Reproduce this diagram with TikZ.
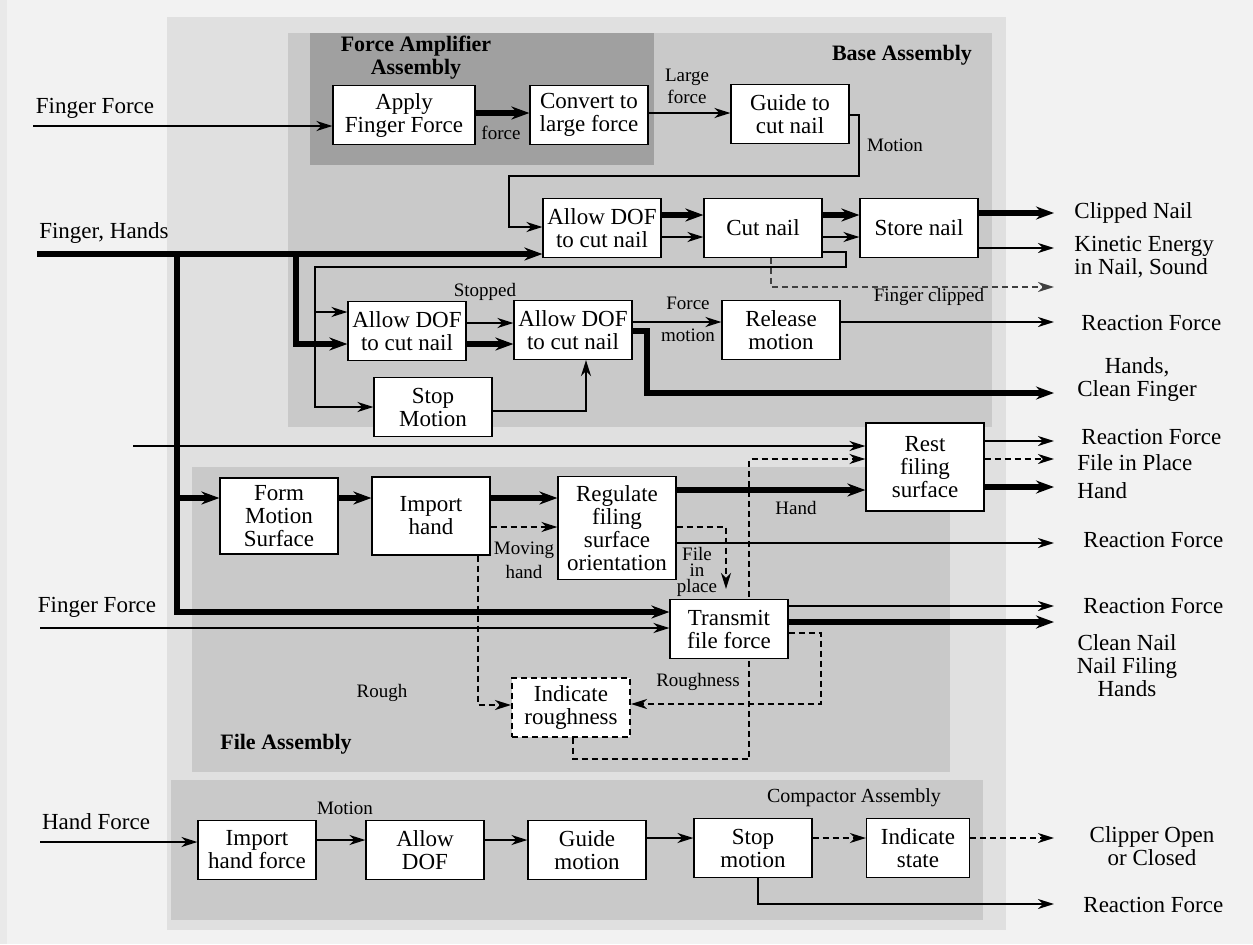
\documentclass[tikz,border=0pt]{standalone}
\usepackage{fontspec}
\setmainfont{Liberation Serif}
\usetikzlibrary{arrows.meta,backgrounds}

\definecolor{scanwhite}{RGB}{242,242,242}
\definecolor{palegray}{RGB}{224,224,224}
\definecolor{midgray}{RGB}{201,201,201}
\definecolor{ampgray}{RGB}{160,160,160}

\begin{document}
\begin{tikzpicture}[x=0.5pt,y=-0.5pt,
        fnbox/.style={draw, line width=0.6pt, fill=white, align=center, inner sep=1pt,
            minimum width=59pt, minimum height=29.5pt, font=\fontsize{11.5}{11.5}\selectfont},
        sigbox/.style={fnbox, line width=1pt, dash pattern=on 3pt off 2pt},
        flow/.style={line width=1pt, -{Stealth[length=8pt,width=5pt,inset=2.5pt]}},
        bigflow/.style={line width=2.6pt, -{Stealth[length=9pt,width=6.5pt,inset=3pt]}},
        sigflow/.style={line width=1pt, dash pattern=on 3pt off 2pt, -{Stealth[length=8pt,width=5pt,inset=2.5pt]}},
        lbl/.style={font=\fontsize{9.5}{11}\selectfont, align=center, inner sep=0pt},
        io/.style={font=\fontsize{11.5}{11.5}\selectfont, align=center, inner sep=0pt},
        grouptitle/.style={font=\fontsize{11}{11.5}\selectfont\bfseries, align=center, inner sep=0pt}]
    \useasboundingbox (0,0) rectangle (1253,944);

    % function blocks
    \node[fnbox, minimum width=71pt] (apply) at (404,115) {Apply\\Finger Force};
    \node[fnbox] (convert) at (589,115) {Convert to\\large force};
    \node[fnbox] (guide) at (790,114) {Guide to\\cut nail};
    \node[fnbox] (dofa) at (602,228) {Allow DOF\\to cut nail};
    \node[fnbox] (cut) at (763,228) {Cut nail};
    \node[fnbox] (store) at (919,228) {Store nail};
    \node[fnbox] (dofb) at (407,331) {Allow DOF\\to cut nail};
    \node[fnbox] (dofc) at (573,330) {Allow DOF\\to cut nail};
    \node[fnbox] (release) at (781,330) {Release\\motion};
    \node[fnbox] (stopm) at (433,407) {Stop\\Motion};
    \node[fnbox, minimum height=44pt] (rest) at (925,467) {Rest\\filing\\surface};
    \node[fnbox, minimum height=38pt] (form) at (279,516) {Form\\Motion\\Surface};
    \node[fnbox, minimum height=39pt] (import) at (431,516) {Import\\hand};
    \node[fnbox, minimum height=51.5pt] (regulate) at (617,528) {Regulate\\filing\\surface\\orientation};
    \node[fnbox] (transmit) at (729,629) {Transmit\\file force};
    \node[sigbox] (indrough) at (571,707) {Indicate\\roughness};
    \node[fnbox] (imphf) at (257,850) {Import\\hand force};
    \node[fnbox] (allowdof) at (425,850) {Allow\\DOF};
    \node[fnbox] (guidem) at (587,850) {Guide\\motion};
    \node[fnbox] (stopmo) at (753,848) {Stop\\motion};
    \node[fnbox, minimum width=51.5pt] (indstate) at (918,848) {Indicate\\state};

    % assembly names
    \node[grouptitle] (tamp) at (416,58) {Force Amplifier\\Assembly};
    \node[grouptitle] (tbase) at (902,55) {Base Assembly};
    \node[grouptitle] (tfile) at (286,744) {File Assembly};
    \node[lbl, font=\fontsize{10}{10}\selectfont] (tcomp) at (854,798) {Compactor Assembly};

    % inputs and outputs
    \node[io] (ffa) at (95,108) {Finger Force};
    \node[io] (fh) at (104,233) {Finger, Hands};
    \node[io] (ffb) at (97,607) {Finger Force};
    \node[io] (hf) at (96,822) {Hand Force};
    \node[io, anchor=west] (oclip) at (1074,213) {Clipped Nail};
    \node[io, anchor=west, align=left] (okin) at (1074,257) {Kinetic Energy\\in Nail, Sound};
    \node[io, anchor=west] (orfa) at (1081,323) {Reaction Force};
    \node[io] (ohands) at (1137,379) {Hands,\\Clean Finger};
    \node[io, anchor=west] (orfb) at (1081,437) {Reaction Force};
    \node[io, anchor=west] (ofip) at (1077,463) {File in Place};
    \node[io, anchor=west] (ohand) at (1077,491) {Hand};
    \node[io, anchor=west] (orfc) at (1083,540) {Reaction Force};
    \node[io, anchor=west] (orfd) at (1083,606) {Reaction Force};
    \node[io] (oclean) at (1127,666) {Clean Nail\\Nail Filing\\Hands};
    \node[io] (oclipper) at (1152,846) {Clipper Open\\or Closed};
    \node[io, anchor=west] (orfe) at (1083,905) {Reaction Force};

    % flow labels
    \node[lbl] (lforce) at (501,133) {force};
    \node[lbl] (llarge) at (687,86) {Large\\force};
    \node[lbl] (lmotion) at (895,145) {Motion};
    \node[lbl] (lclipped) at (929,297) {Finger clipped};
    \node[lbl] (lstopped) at (485,292) {Stopped};
    \node[lbl] (lforceb) at (688,303) {Force};
    \node[lbl] (lmotionb) at (688,335) {motion};
    \node[lbl, font=\fontsize{9.5}{12}\selectfont] (lmoving) at (524,560) {Moving\\hand};
    \node[lbl] (lhand) at (796,508) {Hand};
    \node[lbl, font=\fontsize{9.5}{8}\selectfont] (lfip) at (697,572) {File\\in\\place};
    \node[lbl] (lrough) at (382,693) {Rough};
    \node[lbl] (lroughness) at (698,682) {Roughness};
    \node[lbl] (lmotionc) at (345,808) {Motion};

    % free ends
    \coordinate (ffain) at (33,126);
    \coordinate (fhin) at (37,254);
    \coordinate (fhsplit) at (177,254);
    \coordinate (formsplit) at (177,498);
    \coordinate (fhdrop) at (296,254);
    \coordinate (loopsplit) at (315,312);
    \coordinate (restin) at (133,446);
    \coordinate (ffbin) at (40,628);
    \coordinate (hfin) at (40,842);
    \foreach \n/\y in {eclip/213, ekin/248, efinger/287, erf/322, ehands/393, erfb/441, efip/459,
            ehand/487, erfc/543, erfd/606, eclean/622, eclipper/838, erfe/904}
        \coordinate (\n) at (1054,\y);

    \begin{scope}[on background layer]
        \fill[scanwhite] (0,0) rectangle (1253,944);
        \fill[palegray!70] (0,0) rectangle (7,944);
        \fill[palegray] (167,17) rectangle (1006,930);
        \fill[midgray] (288,33) rectangle (992,427);
        \fill[ampgray] (310,33) rectangle (654,165);
        \fill[midgray] (192,467) rectangle (950,772);
        \fill[midgray] (171,780) rectangle (983,920);
        % runs behind the transmit block
        \draw[sigflow] (indrough.south -| 573,0) |- (749,759) |- (rest.west |- efip);
    \end{scope}

    % force amplifier and base
    \draw[flow] (ffain) -- (apply.west |- ffain);
    \draw[bigflow] (apply.east |- 0,113) -- (convert.west |- 0,113);
    \draw[flow] (convert.east |- 0,113) -- (guide.west |- 0,113);
    \draw[flow] (guide.east |- 0,115) -| (859,176) -| (509,227) -- (dofa.west |- 0,227);
    \draw[bigflow] (fhin) -- (dofa.west |- fhin);
    \draw[bigflow] (fhsplit) |- (transmit.west |- 0,612);
    \draw[bigflow] (formsplit) -- (form.west |- formsplit);
    \draw[bigflow] (fhdrop) |- (dofb.west |- 0,344);
    \draw[bigflow] (dofa.east |- 0,215) -- (cut.west |- 0,215);
    \draw[flow] (dofa.east |- 0,237) -- (cut.west |- 0,237);
    \draw[bigflow] (cut.east |- 0,215) -- (store.west |- 0,215);
    \draw[flow] (cut.east |- 0,237) -- (store.west |- 0,237);
    \draw[bigflow] (store.east |- eclip) -- (eclip);
    \draw[flow] (store.east |- ekin) -- (ekin);
    \draw[flow] (cut.east |- 0,252) -| (846,267) -| (315,407) -- (stopm.west |- 0,407);
    \draw[flow] (loopsplit) -- (dofb.west |- loopsplit);
    \draw[sigflow, line width=0.8pt, black!75] (cut.south -| 771,0) |- (efinger);
    \draw[flow] (dofb.east |- 0,323) -- (dofc.west |- 0,323);
    \draw[bigflow] (dofb.east |- 0,344) -- (dofc.west |- 0,344);
    \draw[flow] (dofc.east |- erf) -- (release.west |- erf);
    \draw[flow] (release.east |- erf) -- (erf);
    \draw[bigflow] (dofc.east |- 0,331) -| (647,393) -- (ehands);
    \draw[flow] (stopm.east |- 0,411) -| (dofc.south -| 586,0);

    % file
    \draw[flow] (restin) -- (rest.west |- restin);
    \draw[bigflow] (form.east |- 0,498) -- (import.west |- 0,498);
    \draw[bigflow] (import.east |- 0,498) -- (regulate.west |- 0,498);
    \draw[sigflow] (import.east |- 0,527) -- (regulate.west |- 0,527);
    \draw[bigflow] (regulate.east |- 0,490) -- (rest.west |- 0,490);
    \draw[sigflow, shorten >=5pt] (regulate.east |- 0,527) -| (transmit.north -| 726,0);
    \draw[flow] (regulate.east |- erfc) -- (erfc);
    \draw[flow] (ffbin) -- (transmit.west |- ffbin);
    \draw[flow] (transmit.east |- erfd) -- (erfd);
    \draw[bigflow] (transmit.east |- eclean) -- (eclean);
    \draw[sigflow] (transmit.east |- 0,633) -| (821,704) -- (indrough.east |- 0,704);
    \draw[sigflow] (import.south -| 478,0) |- (indrough.west |- 0,705);
    \draw[flow] (rest.east |- erfb) -- (erfb);
    \draw[sigflow] (rest.east |- efip) -- (efip);
    \draw[bigflow] (rest.east |- ehand) -- (ehand);

    % compactor
    \draw[flow] (hfin) -- (imphf.west |- hfin);
    \draw[flow] (imphf.east |- 0,840) -- (allowdof.west |- 0,840);
    \draw[flow] (allowdof.east |- 0,840) -- (guidem.west |- 0,840);
    \draw[flow] (guidem.east |- 0,838) -- (stopmo.west |- 0,838);
    \draw[sigflow] (stopmo.east |- eclipper) -- (indstate.west |- eclipper);
    \draw[sigflow] (indstate.east |- eclipper) -- (eclipper);
    \draw[flow] (stopmo.south -| 758,0) |- (erfe);
\end{tikzpicture}
\end{document}
